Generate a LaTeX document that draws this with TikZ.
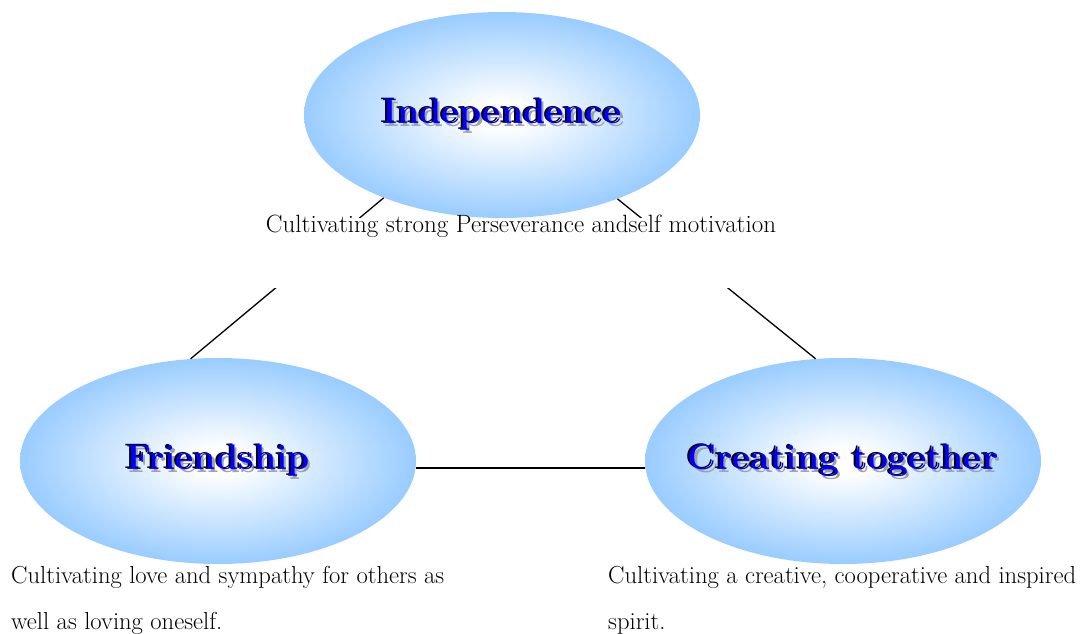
\documentclass[tikz,border=0pt]{standalone}
\usetikzlibrary{shapes.geometric}
\definecolor{skyb}{RGB}{153,204,255}
\definecolor{shadowgray}{RGB}{160,160,160}
\pgfdeclareradialshading{ellshade}{\pgfpoint{0bp}{0bp}}{color(0bp)=(white); color(3bp)=(white); color(25bp)=(skyb); color(50bp)=(skyb)}
\begin{document}
\begin{tikzpicture}[x=1pt,y=-1pt,
  bubble/.style={ellipse, draw=none, shading=ellshade, minimum width=396pt, minimum height=206pt, inner sep=0pt},
  ttlfont/.style={font=\fontsize{35.5}{40}\bfseries\selectfont, inner sep=0pt},
  ttlfront/.style={ttlfont, text=blue},
  ttlblack/.style={ttlfont, text=black, xshift=-2pt, yshift=1.5pt},
  ttlshadow/.style={ttlfont, text=shadowgray, xshift=2.5pt, yshift=-3pt},
  body/.style={font=\fontsize{25}{46}\selectfont, inner sep=0pt, align=left},
  bodysmall/.style={body, font=\fontsize{24.6}{46}\selectfont},
  link/.style={draw=black, line width=1.3pt},
  coverbox/.style={fill=white, draw=none, minimum width=530pt, minimum height=70pt, inner sep=0pt}
]
\useasboundingbox (0,0) rectangle (1081,634);
% ellipses
\node[bubble] (ind) at (502,115) {};
\node[bubble] (fri) at (218,461) {};
\node[bubble] (cre) at (843,461) {};
% connectors
\draw[link] (ind.215.4) -- (fri.105.6);
\draw[link] (ind.324.6) -- (cre.105.1);
\draw[link] (fri.-2.9) -- (cre.182.9);
% white gap behind the top caption
\node[coverbox] (gap) at (502,253) {};
% titles
\foreach \nm/\txt in {ind/Independence, fri/Friendship, cre/Creating together}{
  \node[ttlshadow] at (\nm) {\txt};
  \node[ttlblack] at (\nm) {\txt};
  \node[ttlfront] (\nm T) at (\nm) {\txt};
}
% captions
\node[body, anchor=base] (indC) at (521,232) {Cultivating strong Perseverance andself motivation};
\node[bodysmall, anchor=base west] (friC) at (11,629) {Cultivating love and sympathy for others as\\well as loving oneself.};
\node[bodysmall, anchor=base west] (creC) at (608,629) {Cultivating a creative, cooperative and inspired\\spirit.};
\end{tikzpicture}
\end{document}
